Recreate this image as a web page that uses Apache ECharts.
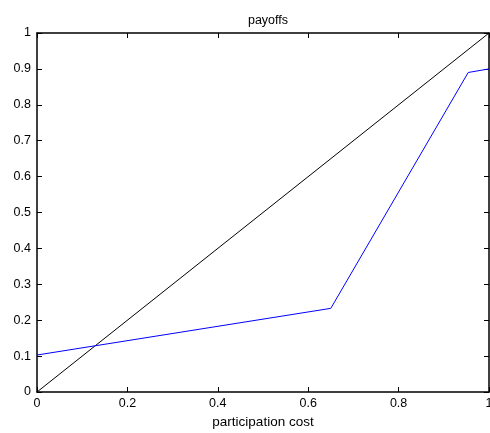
<!DOCTYPE html>
<html><head><meta charset="utf-8">
<script src="https://cdn.jsdelivr.net/npm/echarts@6/dist/echarts.min.js"></script>
<style>html,body{margin:0;padding:0;background:#fff}#c{width:490px;height:433px}</style>
</head><body><div id="c"></div>
<script>
const costX = [0, 0.65, 0.954, 1];
const blueY = [0.103, 0.233, 0.89, 0.90];
const diagX = [0, 1];
const diagY = [0, 1];
const xTicks = [0, 0.2, 0.4, 0.6, 0.8, 1];
const yTicks = [0, 0.1, 0.2, 0.3, 0.4, 0.5, 0.6, 0.7, 0.8, 0.9, 1];

const font = {fontFamily: 'Liberation Sans, Arial, sans-serif', fontSize: 12.5, color: '#000'};
const fmt = v => String(Math.round(v * 10) / 10);
const chart = echarts.init(document.getElementById('c'), null, {renderer: 'canvas'});
const lineStyle = {color: '#000', width: 1.5};
chart.setOption({
  animation: false,
  title: {text: 'payoffs', left: 263, top: 9, textAlign: 'center',
    textStyle: Object.assign({}, font, {fontWeight: 'normal'})},
  grid: {left: 37, right: 1, top: 33, bottom: 41, containLabel: false, outerBoundsMode: 'none'},
  xAxis: [
    {type: 'value', min: 0, max: 1, interval: 0.2, position: 'bottom',
      name: 'participation cost', nameLocation: 'middle', nameGap: 22,
      nameTextStyle: Object.assign({}, font, {fontSize: 13.5}),
      axisLine: {show: true, onZero: false, lineStyle},
      axisTick: {show: true, inside: true, length: 5, lineStyle: {color: '#000', width: 1}},
      axisLabel: Object.assign({}, font, {formatter: fmt, margin: 5}),
      splitLine: {show: false}},
    {type: 'value', min: 0, max: 1, interval: 0.2, position: 'top',
      axisLine: {show: true, onZero: false, lineStyle},
      axisTick: {show: true, inside: true, length: 5, lineStyle: {color: '#000', width: 1}},
      axisLabel: {show: false}, splitLine: {show: false}}
  ],
  yAxis: [
    {type: 'value', min: 0, max: 1, interval: 0.1, position: 'left',
      axisLine: {show: true, onZero: false, lineStyle},
      axisTick: {show: true, inside: true, length: 5, lineStyle: {color: '#000', width: 1}},
      axisLabel: Object.assign({}, font, {formatter: fmt, margin: 6}),
      splitLine: {show: false}},
    {type: 'value', min: 0, max: 1, interval: 0.1, position: 'right',
      axisLine: {show: true, onZero: false, lineStyle},
      axisTick: {show: true, inside: true, length: 5, lineStyle: {color: '#000', width: 1}},
      axisLabel: {show: false}, splitLine: {show: false}}
  ],
  series: [
    {type: 'line', data: diagX.map((x, i) => [x, diagY[i]]), symbol: 'none',
      lineStyle: {color: '#000', width: 1}},
    {type: 'line', data: costX.map((x, i) => [x, blueY[i]]), symbol: 'none',
      lineStyle: {color: '#0000ff', width: 1}}
  ]
});
</script></body></html>
